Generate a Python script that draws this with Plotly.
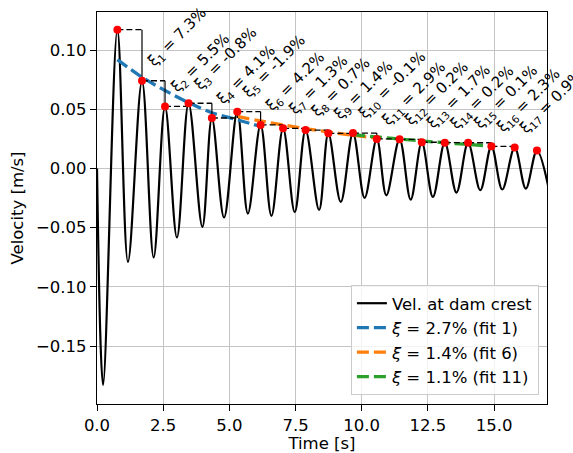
import plotly.graph_objects as go

# velocity record at the dam crest: local extremes [s], [m/s]
sig_t = [0.0, 0.23, 0.77, 1.17, 1.70, 2.14, 2.57, 3.02, 3.46, 3.98, 4.34, 4.80,
         5.30, 5.70, 6.18, 6.59, 7.03, 7.47, 7.88, 8.39, 8.74, 9.21, 9.67, 10.11,
         10.57, 10.93, 11.43, 11.85, 12.27, 12.69, 13.14, 13.58, 14.02, 14.48,
         14.90, 15.31, 15.78, 16.20, 16.62, 17.06]
sig_v = [0.0, -0.183, 0.1174, -0.0789, 0.0742, -0.0752, 0.0525, -0.0583, 0.0552,
         -0.0493, 0.0427, -0.0414, 0.0481, -0.0380, 0.0369, -0.0400, 0.0340,
         -0.0368, 0.0325, -0.0350, 0.0298, -0.0282, 0.0300, -0.0248, 0.0250,
         -0.0226, 0.0247, -0.0262, 0.0222, -0.0240, 0.0219, -0.0203, 0.0218,
         -0.0183, 0.0188, -0.0177, 0.0178, -0.0169, 0.0152, -0.0165]

# detected peaks
peak_t = [0.77, 1.70, 2.57, 3.46, 4.34, 5.30, 6.18, 7.03, 7.88, 8.74, 9.67,
          10.57, 11.43, 12.27, 13.14, 14.02, 14.90, 15.78, 16.62]
peak_v = [0.1174, 0.0742, 0.0525, 0.0552, 0.0427, 0.0481, 0.0369, 0.0340,
          0.0325, 0.0298, 0.0300, 0.0250, 0.0247, 0.0222, 0.0219, 0.0218,
          0.0188, 0.0178, 0.0152]

# damping ratio between successive peaks [%]
xi = [7.3, 5.5, -0.8, 4.1, -1.9, 4.2, 1.3, 0.7, 1.4, -0.1, 2.9, 0.2, 1.7,
      0.2, 0.1, 2.3, 0.9]

# exponential fits
fit1_t = [0.77, 1.70, 2.57, 3.46, 4.34, 5.30, 6.14]
fit1_v = [0.0921, 0.0772, 0.0660, 0.0557, 0.0472, 0.0412, 0.0358]
fit6_t = [5.30, 6.18, 7.03, 7.88, 8.74, 9.67, 10.57]
fit6_v = [0.0440, 0.0402, 0.0368, 0.0337, 0.0309, 0.0282, 0.0258]
fit11_t = [9.67, 10.57, 11.43, 12.27, 13.14, 14.02, 14.90]
fit11_v = [0.0287, 0.0267, 0.0250, 0.0233, 0.0218, 0.0203, 0.0190]

FONT = "DejaVu Sans"
FS = 16.5

fig = go.Figure()

fig.add_trace(go.Scatter(x=sig_t, y=sig_v, mode="lines", line_shape="spline",
                         line=dict(color="black", width=2.2),
                         name="Vel. at dam crest"))

fits = [(fit1_t, fit1_v, "#1f77b4", "<i>ξ</i> = 2.7% (fit 1)"),
        (fit6_t, fit6_v, "#ff7f0e", "<i>ξ</i> = 1.4% (fit 6)"),
        (fit11_t, fit11_v, "#2ca02c", "<i>ξ</i> = 1.1% (fit 11)")]
for ft, fv, col, lab in fits:
    fig.add_trace(go.Scatter(x=ft, y=fv, mode="lines", line_shape="spline",
                             line=dict(color=col, width=3.3, dash="12px,5px"),
                             name=lab))

# step lines between consecutive peaks
hx, hy, vx, vy = [], [], [], []
for i in range(len(xi)):
    hx += [peak_t[i], peak_t[i + 1], None]
    hy += [peak_v[i], peak_v[i], None]
    vx += [peak_t[i + 1], peak_t[i + 1], None]
    vy += [peak_v[i], peak_v[i + 1], None]
fig.add_trace(go.Scatter(x=hx, y=hy, mode="lines", showlegend=False,
                         line=dict(color="black", width=1.3, dash="6px,3px")))
fig.add_trace(go.Scatter(x=vx, y=vy, mode="lines", showlegend=False,
                         line=dict(color="black", width=1.2)))

fig.add_trace(go.Scatter(x=peak_t, y=peak_v, mode="markers", showlegend=False,
                         marker=dict(color="red", size=8)))

for i, v in enumerate(xi):
    fig.add_annotation(x=peak_t[i + 1], y=peak_v[i + 1],
                       text=f"ξ<sub>{i + 1}</sub> = {v:.1f}%",
                       textangle=-45, showarrow=False,
                       xanchor="left", yanchor="bottom",
                       xshift=-1, yshift=7,
                       font=dict(family=FONT, size=15, color="black"))

axis_common = dict(showline=True, linecolor="black", linewidth=1.3, mirror=True,
                   ticks="outside", ticklen=6, tickwidth=1.3, tickcolor="black",
                   showgrid=True, gridcolor="#c4c4c4", gridwidth=1.2,
                   zeroline=False, automargin=False,
                   tickfont=dict(family=FONT, size=FS, color="black"))

fig.update_layout(
    width=573, height=453,
    margin=dict(l=97, r=26, t=12, b=49),
    plot_bgcolor="white", paper_bgcolor="white",
    font=dict(family=FONT, size=FS, color="black"),
    xaxis=dict(range=[0, 17], dtick=2.5, tick0=0, tickformat=".1f",
               title=dict(text="Time [s]", standoff=4,
                          font=dict(family=FONT, size=FS, color="black")),
               **axis_common),
    yaxis=dict(range=[-0.199, 0.1323], dtick=0.05, tick0=0, tickformat=".2f",
               title=dict(text="Velocity [m/s]", standoff=8,
                          font=dict(family=FONT, size=FS, color="black")),
               **axis_common),
    legend=dict(x=0.982, y=0.023, xanchor="right", yanchor="bottom",
                bgcolor="rgba(255,255,255,0.8)", bordercolor="#cccccc",
                borderwidth=1, font=dict(family=FONT, size=FS)),
)

fig.write_html("out.html", config={"displayModeBar": False},
               post_script="document.body.style.margin='0';")
